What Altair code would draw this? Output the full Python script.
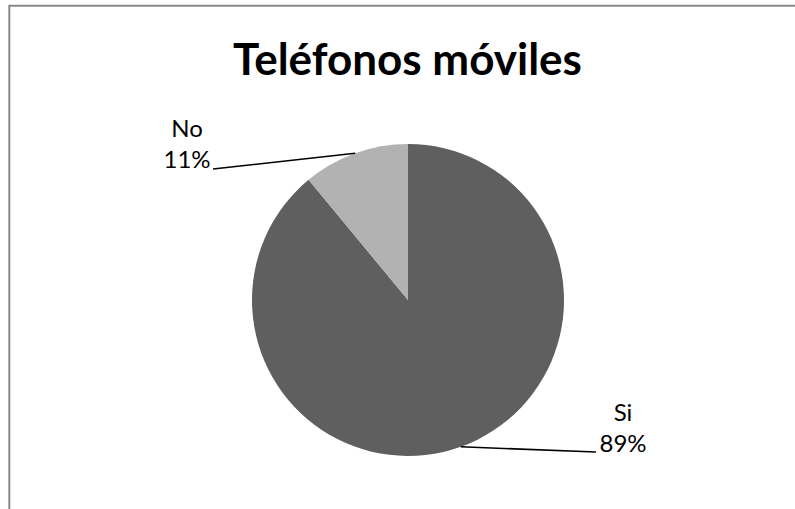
import altair as alt
import pandas as pd

categories = ["Si", "No"]
values = [89, 11]
colors = ["#5f5f5f", "#b2b2b2"]

df = pd.DataFrame({"category": categories, "value": values, "idx": list(range(len(categories)))})

CX, CY, R = 408, 300, 156
FONT = "Lato"

base = alt.Chart(df)

border = alt.Chart(pd.DataFrame({"a": [0]})).mark_rect(
    filled=False, stroke="#898989", strokeWidth=2
).encode(x=alt.value(9.3), y=alt.value(5.7), x2=alt.value(830), y2=alt.value(540))

pie = base.mark_arc(outerRadius=R, stroke=None).encode(
    theta=alt.Theta("value:Q", stack=True),
    color=alt.Color("category:N", scale=alt.Scale(domain=categories, range=colors), legend=None),
    order=alt.Order("idx:Q"),
    x=alt.value(CX),
    y=alt.value(CY),
)

geo = base.transform_window(
    cum="sum(value)", sort=[alt.SortField("idx")], frame=[None, 0]
).transform_joinaggregate(
    total="sum(value)"
).transform_calculate(
    ang=f"(datum.cum - datum.value/2) / datum.total * 2 * PI",
    pct="round(datum.value / datum.total * 100) + '%'",
    px=f"{CX} + {R} * sin(datum.ang)",
    py=f"{CY} - {R} * cos(datum.ang)",
    ex="datum.category == 'Si' ? 596 : 213",
    ey="datum.category == 'Si' ? 452 : 169",
    tx="datum.category == 'Si' ? 623 : 187",
    ty1="datum.category == 'Si' ? 421 : 137",
    ty2="datum.category == 'Si' ? 452 : 168",
)

leaders = geo.mark_rule(color="#000000", strokeWidth=1.6).encode(
    x=alt.X("px:Q", scale=None),
    y=alt.Y("py:Q", scale=None),
    x2="ex:Q",
    y2="ey:Q",
)

name_text = geo.mark_text(font=FONT, fontSize=24, color="#000000", baseline="alphabetic", align="center").encode(
    x=alt.X("tx:Q", scale=None), y=alt.Y("ty1:Q", scale=None), text="category:N"
)
pct_text = geo.mark_text(font=FONT, fontSize=24, color="#000000", baseline="alphabetic", align="center").encode(
    x=alt.X("tx:Q", scale=None), y=alt.Y("ty2:Q", scale=None), text="pct:N"
)

title = alt.Chart(pd.DataFrame({"t": ["Teléfonos móviles"]})).mark_text(
    font=FONT, fontSize=44, fontWeight="bold", color="#000000", baseline="alphabetic", align="center"
).encode(x=alt.value(407.5), y=alt.value(75), text="t:N")

chart = alt.layer(border, pie, leaders, name_text, pct_text, title).properties(
    width=795, height=509, padding=0, autosize=alt.AutoSizeParams(type="none"), background="#ffffff"
).configure_view(stroke=None)

chart.save("out.html", embed_options={"renderer": "svg", "actions": False})
